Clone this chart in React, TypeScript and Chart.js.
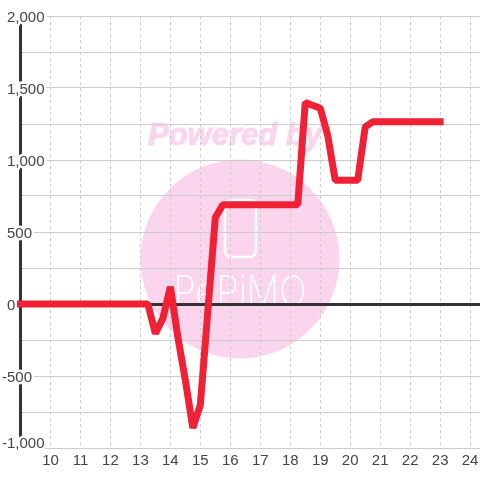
import React, { useEffect, useRef } from "react";
import { Chart, registerables } from "chart.js";

Chart.register(...registerables);

const xValues = [8, 13.25, 13.5, 13.75, 14, 14.25, 14.5, 14.75, 15, 15.25, 15.5, 15.75, 18.25, 18.5, 19, 19.25, 19.5, 20.25, 20.5, 20.75, 23];
const yValues = [0, 0, -205, -100, 120, -230, -530, -860, -700, -50, 600, 690, 690, 1400, 1360, 1170, 860, 860, 1230, 1265, 1265];
const xTicks = [10, 11, 12, 13, 14, 15, 16, 17, 18, 19, 20, 21, 22, 23, 24];
const yTicks = [-1000, -750, -500, -250, 0, 250, 500, 750, 1000, 1250, 1500, 1750, 2000];

const GRID = "#cccccc";
const DARK = "#333333";
const TEXT = "#444444";
const RED = "#f02035";
const PINK = "#fbd5ee";

const watermark = {
  id: "watermark",
  beforeDraw(chart: any) {
    const c = chart.ctx;
    c.save();
    c.fillStyle = "#ffffff";
    c.fillRect(0, 0, 480, 480);
    c.fillStyle = PINK;
    c.beginPath();
    c.arc(240, 259, 99.5, 0, Math.PI * 2);
    c.fill();
    c.font = "italic bold 31px 'Liberation Sans'";
    c.textAlign = "center";
    c.textBaseline = "alphabetic";
    c.strokeStyle = PINK;
    c.lineWidth = 1;
    c.strokeText("Powered by", 235, 145);
    c.fillText("Powered by", 235, 145);
    c.strokeStyle = "#ffffff";
    c.lineWidth = 2.5;
    c.beginPath();
    c.roundRect(225, 200, 31, 57, 6);
    c.stroke();
    c.fillStyle = "#ffffff";
    c.font = "200 42px Inter";
    c.fillText("PePiMO", 240, 306, 133);
    const y = chart.scales.y;
    const items = y.getLabelItems();
    for (const it of items) {
      const label = String(it.label);
      it.options.translation[1] -= 6;
      if (label.startsWith("-")) it.options.translation[0] -= 5;
      if (label === "-1,000") it.options.translation[1] -= 6;
    }
    c.restore();
  },
};

export default function App() {
  const ref = useRef<HTMLCanvasElement>(null);
  useEffect(() => {
    const chart = new Chart(ref.current as HTMLCanvasElement, {
      type: "line",
      data: {
        datasets: [
          {
            data: xValues.map((x, i) => ({ x, y: yValues[i] })),
            borderColor: RED,
            borderWidth: 7,
            pointRadius: 0,
            tension: 0,
            borderJoinStyle: "bevel",
            borderCapStyle: "square",
            clip: { left: 3.5, right: 0, top: 4, bottom: 4 },
          },
        ],
      },
      options: {
        animation: false,
        responsive: false,
        layout: { padding: { top: 16, left: 0, right: 0, bottom: 0 } },
        plugins: { legend: { display: false }, tooltip: { enabled: false }, title: { display: false } },
        scales: {
          x: {
            type: "linear",
            min: 9,
            max: 24.33,
            afterBuildTicks: (s: any) => {
              s.ticks = xTicks.map((value) => ({ value }));
            },
            afterFit: (s: any) => {
              s.height = 32;
              s.paddingLeft = 0;
              s.paddingRight = 0;
            },
            grid: { color: GRID, lineWidth: 1, drawTicks: false },
            border: { display: true, color: GRID, width: 1, dash: [3, 3] },
            ticks: {
              color: TEXT,
              font: { family: "'Liberation Sans'", size: 15 },
              padding: 4,
              maxRotation: 0,
              autoSkip: false,
              callback: (v: any) => String(v),
            },
          },
          y: {
            min: -1000,
            max: 2000,
            afterBuildTicks: (s: any) => {
              s.ticks = yTicks.map((value) => ({ value }));
            },
            afterFit: (s: any) => {
              s.width = 20.5;
              s.paddingTop = 0;
              s.paddingBottom = 0;
            },
            grid: {
              drawTicks: false,
              color: (c: any) => (c.tick && c.tick.value === 0 ? DARK : GRID),
              lineWidth: (c: any) => (c.tick && c.tick.value === 0 ? 3 : 1),
            },
            border: { display: true, color: DARK, width: 3 },
            ticks: {
              color: TEXT,
              mirror: true,
              align: "start",
              padding: -13.5,
              font: { family: "'Liberation Sans'", size: 15 },
              autoSkip: false,
              textStrokeColor: "#ffffff",
              textStrokeWidth: 5,
              callback: (v: any) => (v % 500 === 0 ? Number(v).toLocaleString("en-US") : ""),
            },
          },
        },
      } as any,
      plugins: [watermark],
    });
    return () => chart.destroy();
  }, []);
  return (
    <canvas
      ref={ref}
      width={480}
      height={480}
      style={{ position: "absolute", left: 0, top: 0, width: 480, height: 480 }}
    />
  );
}
